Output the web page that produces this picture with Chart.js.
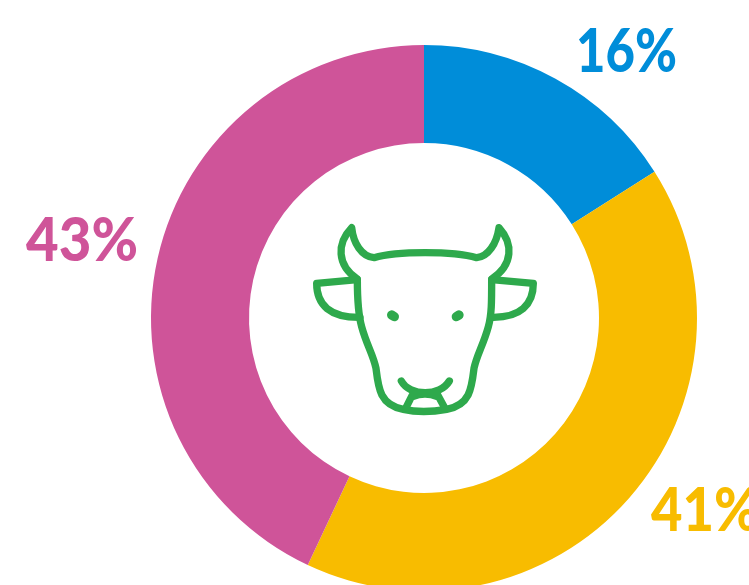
<!DOCTYPE html>
<html>
<head>
<meta charset="utf-8">
<style>
html,body{margin:0;padding:0;background:#fff;width:749px;height:585px;overflow:hidden}
canvas{display:block}
</style>
<script src="https://cdn.jsdelivr.net/npm/chart.js@4/dist/chart.umd.min.js"></script>
</head>
<body>
<canvas id="c" width="848" height="636"></canvas>
<script>
const categories = ["A", "B", "C"];
const shareValues = [16, 41, 43];
const shareColors = ["#008DD9", "#F8BC00", "#CF5499"];
const labelTexts = ["16%", "41%", "43%"];
const labelAnchors = [[626.5, 72], [705, 531], [82, 261]];
const labelWidths = [101, 108, 112];
const iconColor = "#2EA94C";

const cowIcon = {
  id: "cowIcon",
  afterDraw(chart) {
    const ctx = chart.ctx;
    ctx.save();
    ctx.font = "900 61px Lato, sans-serif";
    ctx.textAlign = "center";
    ctx.textBaseline = "alphabetic";
    labelTexts.forEach((t, i) => {
      ctx.fillStyle = shareColors[i];
      ctx.fillText(t, labelAnchors[i][0], labelAnchors[i][1], labelWidths[i]);
    });
    ctx.translate(300, 215);
    ctx.scale(1 / 3, 1 / 3);
    ctx.strokeStyle = iconColor;
    ctx.lineWidth = 22;
    ctx.lineCap = "round";
    ctx.lineJoin = "round";
    const head = new Path2D("M155 38 C160 85 185 125 222 128 C290 108 460 108 530 128 C565 125 590 85 597 38 C640 85 640 150 575 192 C575 260 575 300 565 335 C550 390 530 420 522 460 C515 520 510 570 440 583 C390 592 350 592 310 583 C240 570 235 520 228 460 C220 420 200 390 185 335 C175 300 172 260 172 192 C110 150 110 85 155 38 Z");
    const ears = new Path2D("M172 194 L50 205 C50 270 90 308 180 307 M575 194 L700 205 C700 270 660 308 578 307");
    const mouth = new Path2D("M304 498 C330 545 420 545 448 498 M338 538 L318 578 M412 538 L434 578 M338 545 Q375 530 412 545");
    ctx.stroke(head);
    ctx.stroke(ears);
    ctx.stroke(mouth);
    ctx.lineWidth = 28;
    ctx.stroke(new Path2D("M275 300 L283 305 M477 300 L469 305"));
    ctx.restore();
  }
};

new Chart(document.getElementById("c"), {
  type: "doughnut",
  data: {
    labels: categories,
    datasets: [{ data: shareValues, backgroundColor: shareColors, borderWidth: 0, hoverOffset: 0 }]
  },
  options: {
    responsive: false,
    animation: false,
    radius: 273,
    cutout: "64.1%",
    layout: { padding: 0 },
    plugins: { legend: { display: false }, tooltip: { enabled: false } }
  },
  plugins: [cowIcon]
});
</script>
</body>
</html>
